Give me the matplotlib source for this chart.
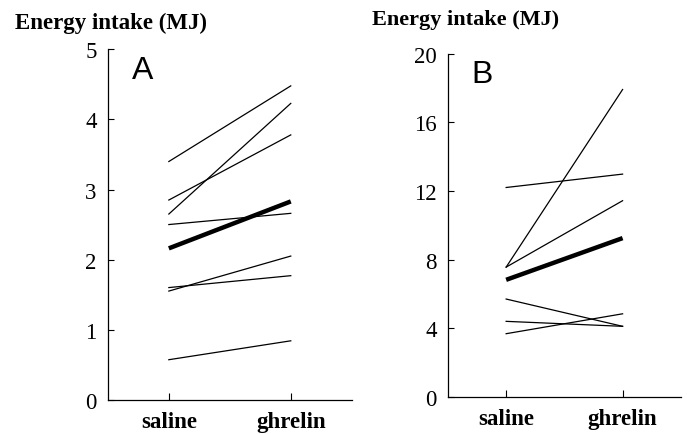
import numpy as np
import matplotlib
matplotlib.use("Agg")
import matplotlib.pyplot as plt

plt.rcParams['font.family'] = ['Liberation Serif', 'DejaVu Serif']

conditions = ["saline", "ghrelin"]

# panel A: individual subjects (saline, ghrelin) and mean
a_saline = [3.40, 2.65, 2.85, 2.50, 1.55, 1.60, 0.57]
a_ghrelin = [4.48, 4.23, 3.78, 2.66, 2.05, 1.77, 0.84]
a_mean = [2.16, 2.83]
a_ticks = [0, 1, 2, 3, 4, 5]

# panel B
b_saline = [7.57, 12.21, 7.57, 5.71, 4.41, 3.69]
b_ghrelin = [17.92, 12.99, 11.44, 4.12, 4.12, 4.85]
b_mean = [6.83, 9.26]
b_ticks = [0, 4, 8, 12, 16, 20]

fig = plt.figure(figsize=(6.87, 4.35), dpi=100)
ax_a = fig.add_axes([0.157, 0.079, 0.355, 0.805])
ax_b = fig.add_axes([0.652, 0.085, 0.339, 0.789])

def draw_panel(ax, sal, ghr, mean, ticks, letter):
    x = np.arange(len(conditions))
    for s, g in zip(sal, ghr):
        ax.plot(x, [s, g], color="black", lw=0.9)
    ax.plot(x, mean, color="black", lw=3.2, solid_capstyle="butt")
    ax.set_xlim(-0.5, 1.5)
    ax.set_ylim(ticks[0], ticks[-1])
    ax.set_yticks(ticks)
    ax.set_yticklabels([str(t) for t in ticks], fontsize=16.5)
    ax.set_xticks(x)
    ax.set_xticklabels(conditions, fontsize=16.5, fontweight="bold")
    ax.tick_params(axis="x", direction="in", length=5, pad=8)
    ax.tick_params(axis="y", direction="in", length=4, pad=8)
    for side in ["top", "right"]:
        ax.spines[side].set_visible(False)
    for side in ["left", "bottom"]:
        ax.spines[side].set_linewidth(0.9)
    ax.text(0.1, 0.985, letter, transform=ax.transAxes, fontsize=23,
            family="Liberation Sans", va="top", ha="left")

draw_panel(ax_a, a_saline, a_ghrelin, a_mean, a_ticks, "A")
draw_panel(ax_b, b_saline, b_ghrelin, b_mean, b_ticks, "B")

fig.text(15 / 687, 1 - 29 / 435, "Energy intake (MJ)", fontsize=16.5,
         fontweight="bold", ha="left", va="baseline")
fig.text(372 / 687, 1 - 25 / 435, "Energy intake (MJ)", fontsize=16,
         fontweight="bold", ha="left", va="baseline")

fig.savefig("out.png", dpi=100)
